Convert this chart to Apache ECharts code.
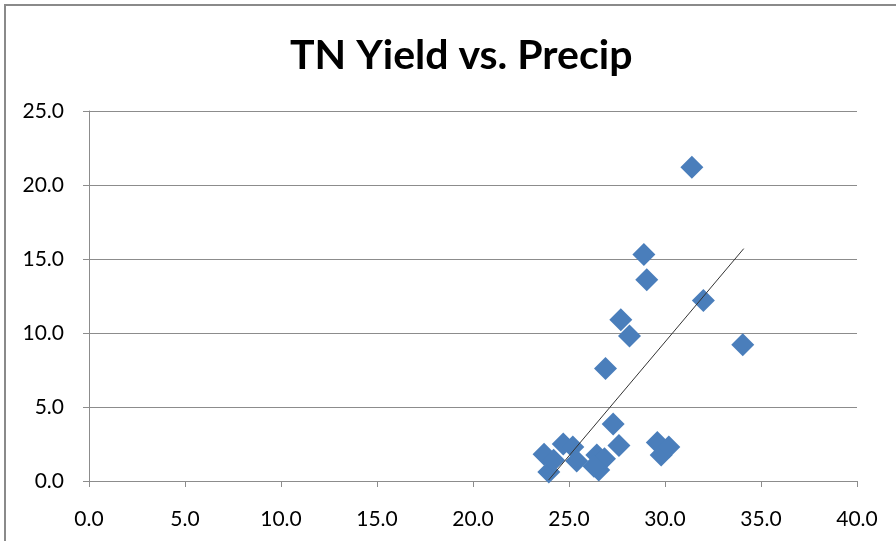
<!DOCTYPE html>
<html>
<head>
<meta charset="utf-8">
<script src="https://cdn.jsdelivr.net/npm/echarts@6/dist/echarts.min.js"></script>
<style>
  html, body { margin: 0; padding: 0; background: #fff; }
  #chart { width: 896px; height: 541px; }
</style>
</head>
<body>
<div id="chart"></div>
<script>
// 降水量 (x) 与 TN 产量 (y)
var precip = [31.4, 28.9, 29.05, 32.0, 27.7, 28.15, 34.05, 26.9, 27.3, 27.6, 29.6, 29.8, 30.2,
              23.7, 23.95, 24.2, 24.7, 25.2, 25.4, 26.45, 26.55, 26.85, 26.3];
var tnYield = [21.2, 15.3, 13.6, 12.2, 10.9, 9.8, 9.2, 7.6, 3.85, 2.4, 2.6, 1.75, 2.3,
               1.8, 0.6, 1.4, 2.5, 2.3, 1.35, 1.75, 0.75, 1.5, 1.0];
// 趋势线两端
var trendX = [23.94, 34.1];
var trendY = [0.07, 15.7];
var xTicks = [0, 40, 5];
var yTicks = [0, 25, 5];

var pts = precip.map(function (x, i) { return [x, tnYield[i]]; });
var trend = trendX.map(function (x, i) { return [x, trendY[i]]; });
var font = 'Lato, "Open Sans", sans-serif';

var myChart = echarts.init(document.getElementById('chart'));
var option = {
    backgroundColor: '#fff',
    animation: false,
    title: {
        text: 'TN Yield vs. Precip',
        left: 285,
        top: 30,
        textStyle: { fontFamily: font, fontSize: 41, fontWeight: 'bold', color: '#000' }
    },
    graphic: [{
        type: 'rect',
        shape: { x: 5, y: 5, width: 1000, height: 1000 },
        style: { fill: 'none', stroke: '#8a8a8a', lineWidth: 2 }
    }],
    grid: { left: 89, right: 39, top: 111, bottom: 60 },
    xAxis: {
        type: 'value',
        min: xTicks[0], max: xTicks[1], interval: xTicks[2],
        axisLine: { lineStyle: { color: '#8c8c8c', width: 1 } },
        axisTick: { show: true, inside: false, length: 6, lineStyle: { color: '#8c8c8c' } },
        splitLine: { show: false },
        axisLabel: {
            margin: 28, color: '#000', fontFamily: font, fontSize: 21,
            formatter: function (v) { return v.toFixed(1); }
        }
    },
    yAxis: {
        type: 'value',
        min: yTicks[0], max: yTicks[1], interval: yTicks[2],
        axisLine: { show: true, lineStyle: { color: '#8c8c8c', width: 1 } },
        axisTick: { show: true, inside: false, length: 6, lineStyle: { color: '#8c8c8c' } },
        splitLine: { show: true, lineStyle: { color: '#8c8c8c', width: 1 } },
        axisLabel: {
            margin: 25, color: '#000', fontFamily: font, fontSize: 21,
            formatter: function (v) { return v.toFixed(1); }
        }
    },
    series: [
        {
            type: 'scatter',
            data: pts,
            symbol: 'diamond',
            symbolSize: [23, 23],
            itemStyle: { color: '#4a7ebb', opacity: 1 },
            z: 2
        },
        {
            type: 'line',
            data: trend,
            symbol: 'none',
            lineStyle: { color: '#333333', width: 1 },
            z: 3
        }
    ]
};
myChart.setOption(option);
</script>
</body>
</html>
